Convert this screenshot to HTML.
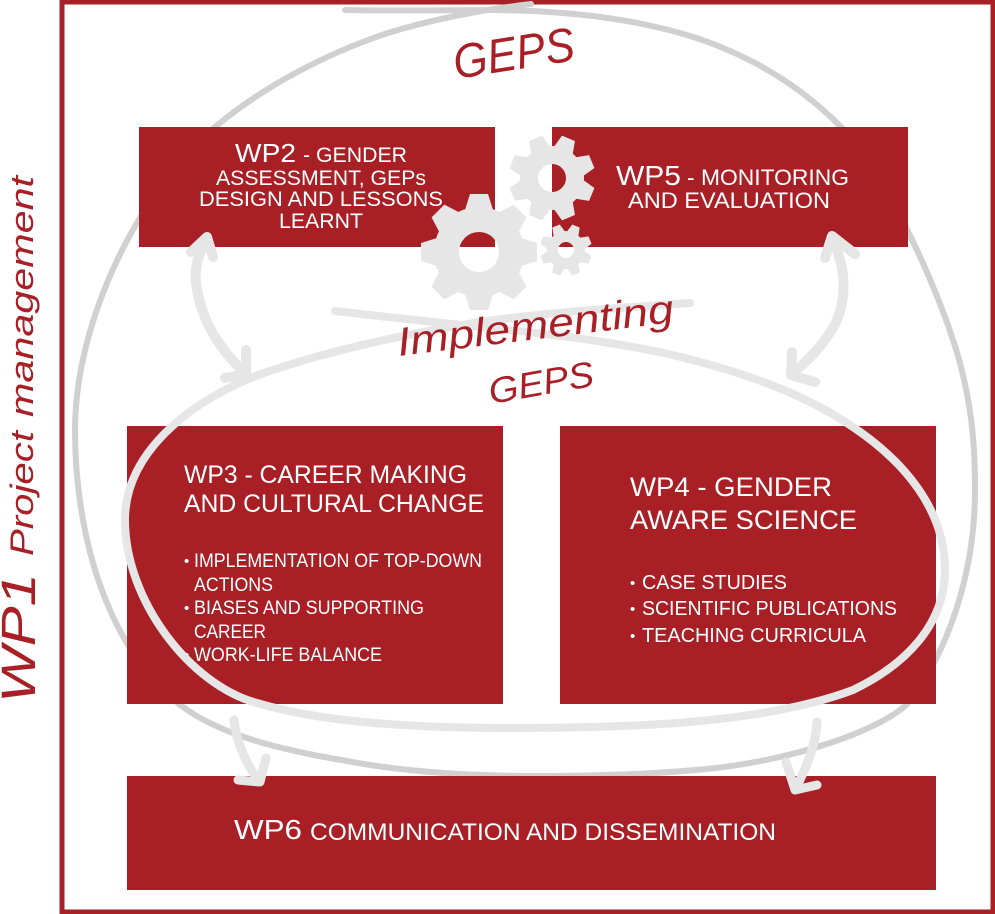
<!DOCTYPE html>
<html><head><meta charset="utf-8"><style>
html,body{margin:0;padding:0;background:#fff}
svg{display:block}
.t{font-family:"Liberation Sans",sans-serif;fill:#fff}
.h{font-family:"Liberation Sans",sans-serif;font-style:italic;fill:#a82026}
</style></head><body>
<svg xmlns="http://www.w3.org/2000/svg" width="995" height="914" viewBox="0 0 995 914">
<rect width="995" height="914" fill="#fff"/>
<rect x="62" y="2" width="931" height="910" fill="none" stroke="#a82026" stroke-width="5"/>

<!-- outer grey loop -->
<path fill="none" stroke="#d0d0d0" stroke-width="6" stroke-linecap="round" d="M345 10 C400 11 450 10 489 10 C545 10 605 15 656 27 C725 42 790 75 841 127 C885 172 940 290 960 363 C973 413 975 450 975 490 C975 570 950 650 907 704 C880 730 800 758 716 768 C660 774 600 776 537 776 C470 776 410 772 358 763 C300 753 225 740 179 704 C110 650 75 540 75 430 C75 320 140 190 215 127 C265 85 330 52 388 33 C430 20 480 10 531 4"/>

<!-- boxes -->
<g fill="#a82026">
<rect x="139" y="127" width="356" height="120"/>
<rect x="552" y="127" width="356" height="120"/>
<rect x="127" y="426" width="376" height="278"/>
<rect x="560" y="426" width="376" height="278"/>
<rect x="127" y="776" width="809" height="114"/>
</g>

<!-- box text -->
<g class="t">
<text x="235" y="162" font-size="26" textLength="61" lengthAdjust="spacingAndGlyphs">WP2</text>
<text x="303" y="162" font-size="21" textLength="104" lengthAdjust="spacingAndGlyphs">- GENDER</text>
<text x="216" y="185" font-size="21" textLength="210" lengthAdjust="spacingAndGlyphs">ASSESSMENT, GEPs</text>
<text x="199" y="206" font-size="21" textLength="244" lengthAdjust="spacingAndGlyphs">DESIGN AND LESSONS</text>
<text x="279" y="228" font-size="21" textLength="84" lengthAdjust="spacingAndGlyphs">LEARNT</text>

<text x="616" y="185" font-size="28" textLength="65" lengthAdjust="spacingAndGlyphs">WP5</text>
<text x="687" y="185" font-size="22" textLength="162" lengthAdjust="spacingAndGlyphs">- MONITORING</text>
<text x="628" y="208" font-size="22" textLength="202" lengthAdjust="spacingAndGlyphs">AND EVALUATION</text>

<text x="184" y="483" font-size="25" textLength="283" lengthAdjust="spacingAndGlyphs">WP3 - CAREER MAKING</text>
<text x="184" y="512" font-size="25" textLength="300" lengthAdjust="spacingAndGlyphs">AND CULTURAL CHANGE</text>
<g font-size="19">
<text x="184" y="566" font-size="15">•</text>
<text x="194" y="567" textLength="288" lengthAdjust="spacingAndGlyphs">IMPLEMENTATION OF TOP-DOWN</text>
<text x="194" y="591" textLength="79" lengthAdjust="spacingAndGlyphs">ACTIONS</text>
<text x="184" y="613" font-size="15">•</text>
<text x="194" y="614" textLength="230" lengthAdjust="spacingAndGlyphs">BIASES AND SUPPORTING</text>
<text x="194" y="638" textLength="72" lengthAdjust="spacingAndGlyphs">CAREER</text>
<text x="184" y="660" font-size="15">•</text>
<text x="194" y="661" textLength="188" lengthAdjust="spacingAndGlyphs">WORK-LIFE BALANCE</text>
</g>

<text x="630" y="496" font-size="27" textLength="202" lengthAdjust="spacingAndGlyphs">WP4 - GENDER</text>
<text x="630" y="529" font-size="27" textLength="227" lengthAdjust="spacingAndGlyphs">AWARE SCIENCE</text>
<g font-size="20">
<text x="630" y="588" font-size="15">•</text>
<text x="642" y="589" textLength="145" lengthAdjust="spacingAndGlyphs">CASE STUDIES</text>
<text x="630" y="614" font-size="15">•</text>
<text x="642" y="615" textLength="255" lengthAdjust="spacingAndGlyphs">SCIENTIFIC PUBLICATIONS</text>
<text x="630" y="641" font-size="15">•</text>
<text x="642" y="642" textLength="224" lengthAdjust="spacingAndGlyphs">TEACHING CURRICULA</text>
</g>

<text x="234" y="839" font-size="28" textLength="68" lengthAdjust="spacingAndGlyphs">WP6</text>
<text x="310" y="840" font-size="24" textLength="466" lengthAdjust="spacingAndGlyphs">COMMUNICATION AND DISSEMINATION</text>
</g>

<!-- light loop and arrows -->
<g fill="none" stroke="#e6e6e6" stroke-linecap="round" stroke-linejoin="round">
<path stroke-width="8" d="M335 311 C385 317 435 322 480 327 C560 335 640 345 700 362 C760 378 810 398 853 427 C905 462 945 510 945 570 C945 625 905 665 853 690 C760 725 620 728 507 728 C410 728 320 722 257 703 C190 685 125 600 125 520 C125 455 185 405 253 377 C320 352 400 335 480 322 C550 312 620 308 690 303"/>
<path stroke-width="10" d="M207 240 C195 258 194 275 197 290 C201 310 208 327 217 340 C225 352 235 364 245 373"/>
<path stroke-width="10" d="M191 252 L207 237 L213 257"/>
<path stroke-width="10" d="M246 350 L246 374 L225 378"/>
<path stroke-width="10" d="M832 238 C842 260 845 278 843 297 C841 312 836 325 827 337 C818 350 806 362 793 373"/>
<path stroke-width="10" d="M825 258 L832 236 L855 254"/>
<path stroke-width="10" d="M792 352 L791 375 L815 382"/>
<path stroke-width="9" d="M234 720 C236 740 245 762 258 780"/>
<path stroke-width="9" d="M266 758 L260 782 L238 780"/>
<path stroke-width="9" d="M817 722 C816 745 806 768 796 788"/>
<path stroke-width="9" d="M786 762 L795 790 L817 785"/>
</g>

<!-- gears -->
<g fill="#e6e6e6">
<g transform="translate(479 252)">
<circle r="32.5" fill="none" stroke="#e6e6e6" stroke-width="25"/>
<polygon points="-14,-42 -9,-58 9,-58 14,-42"/>
<polygon points="-14,-42 -9,-58 9,-58 14,-42" transform="rotate(45)"/>
<polygon points="-14,-42 -9,-58 9,-58 14,-42" transform="rotate(90)"/>
<polygon points="-14,-42 -9,-58 9,-58 14,-42" transform="rotate(135)"/>
<polygon points="-14,-42 -9,-58 9,-58 14,-42" transform="rotate(180)"/>
<polygon points="-14,-42 -9,-58 9,-58 14,-42" transform="rotate(225)"/>
<polygon points="-14,-42 -9,-58 9,-58 14,-42" transform="rotate(270)"/>
<polygon points="-14,-42 -9,-58 9,-58 14,-42" transform="rotate(315)"/>
</g>
<g transform="translate(552 178)">
<circle r="23" fill="none" stroke="#e6e6e6" stroke-width="18"/>
<polygon points="-10,-30 -7,-43 7,-43 10,-30" transform="rotate(22.5)"/>
<polygon points="-10,-30 -7,-43 7,-43 10,-30" transform="rotate(67.5)"/>
<polygon points="-10,-30 -7,-43 7,-43 10,-30" transform="rotate(112.5)"/>
<polygon points="-10,-30 -7,-43 7,-43 10,-30" transform="rotate(157.5)"/>
<polygon points="-10,-30 -7,-43 7,-43 10,-30" transform="rotate(202.5)"/>
<polygon points="-10,-30 -7,-43 7,-43 10,-30" transform="rotate(247.5)"/>
<polygon points="-10,-30 -7,-43 7,-43 10,-30" transform="rotate(292.5)"/>
<polygon points="-10,-30 -7,-43 7,-43 10,-30" transform="rotate(337.5)"/>
</g>
<g transform="translate(566 250)">
<circle r="13.5" fill="none" stroke="#e6e6e6" stroke-width="11"/>
<polygon points="-6,-18 -4,-26 4,-26 6,-18" transform="rotate(22.5)"/>
<polygon points="-6,-18 -4,-26 4,-26 6,-18" transform="rotate(67.5)"/>
<polygon points="-6,-18 -4,-26 4,-26 6,-18" transform="rotate(112.5)"/>
<polygon points="-6,-18 -4,-26 4,-26 6,-18" transform="rotate(157.5)"/>
<polygon points="-6,-18 -4,-26 4,-26 6,-18" transform="rotate(202.5)"/>
<polygon points="-6,-18 -4,-26 4,-26 6,-18" transform="rotate(247.5)"/>
<polygon points="-6,-18 -4,-26 4,-26 6,-18" transform="rotate(292.5)"/>
<polygon points="-6,-18 -4,-26 4,-26 6,-18" transform="rotate(337.5)"/>
</g>
</g>

<!-- hand lettering -->
<g class="h">
<text transform="translate(456 79) rotate(-9)" font-size="48" textLength="122" lengthAdjust="spacingAndGlyphs">GEPS</text>
<text transform="translate(399 356) rotate(-7)" font-size="40" textLength="278" lengthAdjust="spacingAndGlyphs">Implementing</text>
<text transform="translate(491 404) rotate(-10)" font-size="36" textLength="106" lengthAdjust="spacingAndGlyphs">GEPS</text>
<text transform="translate(35 703) rotate(-90)" font-size="48" textLength="130" lengthAdjust="spacingAndGlyphs">WP1</text>
<text transform="translate(33 556) rotate(-90)" font-size="32" textLength="125" lengthAdjust="spacingAndGlyphs">Project</text>
<text transform="translate(33 417) rotate(-90)" font-size="32" textLength="241" lengthAdjust="spacingAndGlyphs">management</text>
</g>
</svg>
</body></html>
